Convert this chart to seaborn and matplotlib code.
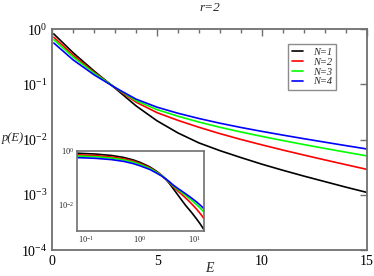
import numpy as np
import pandas as pd
import matplotlib
matplotlib.use("Agg")
import matplotlib.pyplot as plt
import seaborn as sns
from matplotlib.ticker import MultipleLocator, NullLocator, LogLocator

sns.set_theme(style="white")
plt.rcParams["font.family"] = ["Liberation Serif", "DejaVu Serif"]
plt.rcParams["mathtext.fontset"] = "stix"

energy = [0.07, 0.15, 0.3, 0.5, 0.75, 1, 1.5, 2, 2.5, 3, 3.5, 4,
          5, 6, 7, 8, 9, 10, 11, 12, 13, 14, 15]

# log10 p(E)
logp_n1 = [-0.085, -0.115, -0.17, -0.244, -0.337, -0.429, -0.594, -0.759, -0.914, -1.069, -1.229, -1.389,
           -1.659, -1.879, -2.059, -2.199, -2.324, -2.444, -2.554, -2.659, -2.759, -2.859, -2.954]
logp_n2 = [-0.145, -0.173, -0.226, -0.296, -0.383, -0.471, -0.626, -0.781, -0.921, -1.061, -1.191, -1.321,
           -1.511, -1.651, -1.776, -1.891, -1.996, -2.094, -2.188, -2.278, -2.366, -2.452, -2.537]
logp_n3 = [-0.19, -0.217, -0.268, -0.336, -0.421, -0.506, -0.651, -0.796, -0.926, -1.056, -1.176, -1.296,
           -1.456, -1.576, -1.681, -1.776, -1.861, -1.941, -2.016, -2.088, -2.158, -2.226, -2.293]
logp_n4 = [-0.25, -0.276, -0.326, -0.392, -0.475, -0.557, -0.692, -0.827, -0.942, -1.057, -1.162, -1.267,
           -1.412, -1.522, -1.617, -1.702, -1.779, -1.85, -1.917, -1.982, -2.045, -2.107, -2.168]

labels = ["N=1", "N=2", "N=3", "N=4"]
colors = ["#000000", "#ff0000", "#00ff00", "#0000ff"]

frames = []
for lab, lp in zip(labels, [logp_n1, logp_n2, logp_n3, logp_n4]):
    frames.append(pd.DataFrame({"E": energy, "p": 10 ** np.array(lp), "N": lab}))
df = pd.concat(frames, ignore_index=True)

spine_col = "#707070"

fig = plt.figure(figsize=(3.74, 2.76), dpi=100)
ax = fig.add_axes([0.140, 0.094, 0.840, 0.800])

sns.lineplot(data=df, x="E", y="p", hue="N", palette=colors, lw=1.2, ax=ax)
ax.set_yscale("log")
ax.set_xlim(0, 15)
ax.set_ylim(1e-4, 1)
ax.xaxis.set_major_locator(MultipleLocator(5))
ax.xaxis.set_minor_locator(MultipleLocator(1))
ax.yaxis.set_major_locator(LogLocator(base=10, numticks=10))
ax.yaxis.set_minor_locator(NullLocator())
ax.tick_params(which="both", direction="in", top=True, right=True, color=spine_col,
               labelsize=10, labelcolor="black")
ax.tick_params(which="major", length=5, width=1)
ax.tick_params(which="minor", length=3, width=1)
for s in ax.spines.values():
    s.set_color(spine_col)
    s.set_linewidth(1.3)
ax.grid(False)

ax.set_xlabel("E", style="italic", fontsize=10)
ax.xaxis.set_label_coords(0.5, -0.055)
ax.set_ylabel("p(E)", style="italic", fontsize=9, rotation=0, va="center", ha="center")
ax.yaxis.set_label_coords(-0.125, 0.507)
fig.text(0.56, 1 - 8 / 276, "r=2", ha="center", va="center", style="italic", fontsize=9.5)

leg = ax.legend(loc="upper right", bbox_to_anchor=(0.902, 0.933), borderaxespad=0,
                fancybox=False, frameon=True, prop={"style": "italic", "size": 7.5},
                handlelength=1.0, handletextpad=1.0, labelspacing=0.05, borderpad=0.35)
leg.get_frame().set_edgecolor(spine_col)
leg.get_frame().set_linewidth(1.0)

# inset, log-log
ins = fig.add_axes([0.207, 0.164, 0.338, 0.289])
sns.lineplot(data=df, x="E", y="p", hue="N", palette=colors, lw=1.2, ax=ins, legend=False)
ins.set_xscale("log")
ins.set_yscale("log")
ins.set_xlim(0.07, 15)
ins.set_ylim(1e-3, 1)
ins.xaxis.set_major_locator(LogLocator(base=10, numticks=10))
ins.xaxis.set_minor_locator(NullLocator())
ins.set_yticks([1e-2, 1])
ins.yaxis.set_minor_locator(NullLocator())
ins.tick_params(which="both", direction="in", color=spine_col, labelsize=6,
                length=4, width=1, pad=2)
ins.set_xlabel("")
ins.set_ylabel("")
for s in ins.spines.values():
    s.set_color(spine_col)
    s.set_linewidth(1.2)
ins.grid(False)

fig.savefig("out.png", dpi=100)
